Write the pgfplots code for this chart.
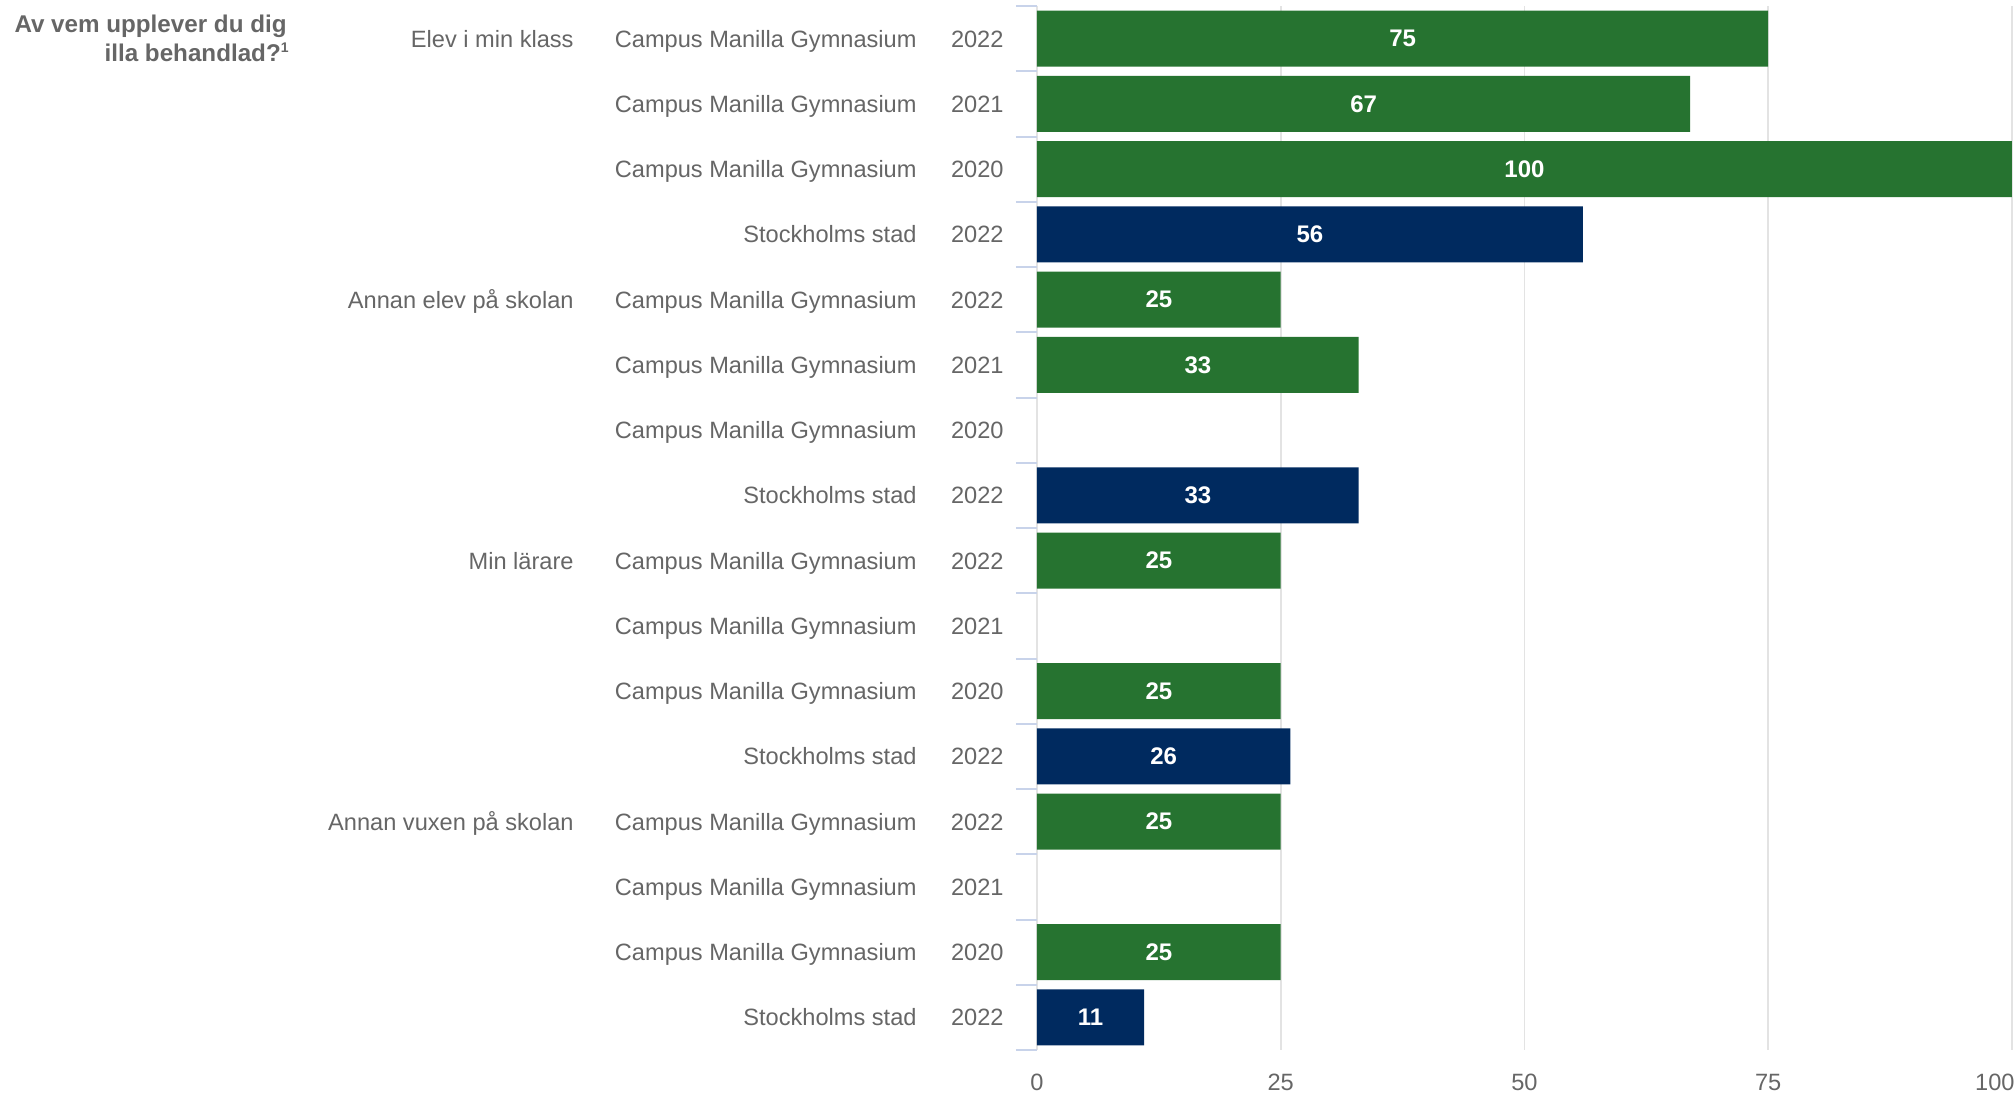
\documentclass[border=0pt]{standalone}
\usepackage{pgfplots}
\pgfplotsset{compat=1.18}
\usepackage{pgfplotstable}
\usepackage{fontspec}
\setmainfont{Liberation Sans}
\definecolor{cmg}{HTML}{267330}
\definecolor{sthlm}{HTML}{002A5F}
\definecolor{txt}{HTML}{666666}
\definecolor{tickblue}{HTML}{C8D3EA}
\definecolor{gridgray}{HTML}{E3E3E3}
\newcommand{\lab}[3]{\makebox[0pt][r]{#1}\hspace{171.5pt}\makebox[0pt][r]{#2}\hspace{43.5pt}\makebox[0pt][r]{#3}}
\pgfplotstableread{
i v
0 75
1 67
2 100
4 25
5 33
8 25
10 25
12 25
14 25
}\cmgdata
\pgfplotstableread{
i v
3 56
7 33
11 26
15 11
}\sthdata
\begin{document}
\begin{tikzpicture}[font=\fontsize{11.8}{14}\selectfont, text=txt]
\begin{axis}[
 scale only axis, width=487.5pt, height=522pt,
 bar width=28pt, bar shift=0pt,
 xmin=0, xmax=100, ymin=-0.5, ymax=15.5, y dir=reverse,
 axis line style={draw=none},
 /pgf/number format/assume math mode=true,
 xtick={0,25,50,75}, extra x ticks={100},
 extra x tick style={grid=major, xticklabel style={anchor=base east, xshift=1.5pt}},
 xmajorgrids, grid style={draw=gridgray, line width=0.8pt},
 ytick={0,...,15},
 yticklabels={
  {\lab{Elev i min klass}{Campus Manilla Gymnasium}{2022}},
  {\lab{}{Campus Manilla Gymnasium}{2021}},
  {\lab{}{Campus Manilla Gymnasium}{2020}},
  {\lab{}{Stockholms stad}{2022}},
  {\lab{Annan elev på skolan}{Campus Manilla Gymnasium}{2022}},
  {\lab{}{Campus Manilla Gymnasium}{2021}},
  {\lab{}{Campus Manilla Gymnasium}{2020}},
  {\lab{}{Stockholms stad}{2022}},
  {\lab{Min lärare}{Campus Manilla Gymnasium}{2022}},
  {\lab{}{Campus Manilla Gymnasium}{2021}},
  {\lab{}{Campus Manilla Gymnasium}{2020}},
  {\lab{}{Stockholms stad}{2022}},
  {\lab{Annan vuxen på skolan}{Campus Manilla Gymnasium}{2022}},
  {\lab{}{Campus Manilla Gymnasium}{2021}},
  {\lab{}{Campus Manilla Gymnasium}{2020}},
  {\lab{}{Stockholms stad}{2022}}
 },
 minor ytick={-0.5,0.5,...,15.5},
 tick align=outside, ytick pos=left, xtick pos=bottom,
 major tick length=0pt, minor tick length=10.5pt,
 major tick style={draw=none},
 minor tick style={draw=tickblue, line width=1pt},
 yticklabel style={anchor=base east, inner sep=0pt, xshift=-16.5pt, yshift=-4.3pt, text=txt, font=\fontsize{11.8}{14}\selectfont},
 xticklabel style={anchor=base, inner sep=0pt, yshift=-20.3pt, text=txt, font=\fontsize{11.8}{14}\selectfont},
]
\addplot[xbar, fill=cmg, draw=none] table[x=v, y=i] \cmgdata;
\addplot[xbar, fill=sthlm, draw=none] table[x=v, y=i] \sthdata;
\addplot[draw=none, mark=none, nodes near coords, point meta=explicit symbolic,
  nodes near coords style={anchor=center, inner sep=0pt, text=white, font=\bfseries\fontsize{12}{14}\selectfont}]
  table[x expr=\thisrow{v}/2, y=i, meta=v] \cmgdata;
\addplot[draw=none, mark=none, nodes near coords, point meta=explicit symbolic,
  nodes near coords style={anchor=center, inner sep=0pt, text=white, font=\bfseries\fontsize{12}{14}\selectfont}]
  table[x expr=\thisrow{v}/2, y=i, meta=v] \sthdata;
\end{axis}
\node[anchor=base east, inner sep=0pt, font=\bfseries\fontsize{12.1}{15}\selectfont, text=txt] at (-375pt,508.5pt) {Av vem upplever du dig};
\node[anchor=base east, inner sep=0pt, font=\bfseries\fontsize{12.1}{15}\selectfont, text=txt] at (-374pt,494pt) {illa behandlad?\raisebox{4.5pt}{\fontsize{7}{7}\selectfont 1}};
\pgfresetboundingbox
\path[use as bounding box] (-518.5pt,-21.5pt) rectangle (489pt,525pt);
\end{tikzpicture}
\end{document}
